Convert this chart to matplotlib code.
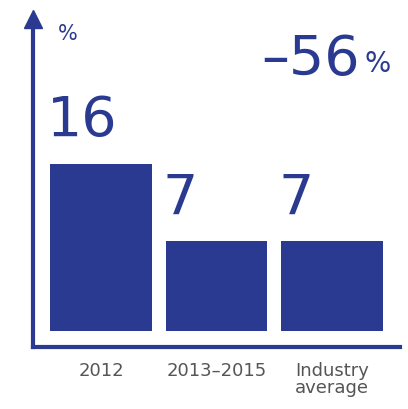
import matplotlib.pyplot as plt

categories = ["2012", "2013–2015", "Industry\naverage"]
values = [16, 7, 7]
value_labels = ["16", "7", "7"]
change_label = "–56"

BLUE = "#293a90"
BASE = 3.5  # bars start a little above the axis

fig = plt.figure(figsize=(4.08, 4.10), dpi=100)
ax = fig.add_axes([33 / 408, 62 / 410, 367 / 408, 328 / 410])

x = list(range(len(values)))
ax.bar(x, [v + BASE for v in values], bottom=-BASE, width=0.883, color=BLUE, align="center")

ax.set_xlim(-0.589, 2.589)
ax.set_ylim(-5.37, 32.9)

for s in ["top", "right"]:
    ax.spines[s].set_visible(False)
for s in ["left", "bottom"]:
    ax.spines[s].set_color(BLUE)
    ax.spines[s].set_linewidth(3)
ax.plot(0, 1, "^", transform=ax.transAxes, color=BLUE, markersize=13, clip_on=False)
ax.set_yticks([])
ax.set_xticks([])

font = ["Liberation Sans Narrow", "DejaVu Sans"]
for i, (v, lab) in enumerate(zip(values, value_labels)):
    ax.annotate(lab, (i - 0.441, v), xytext=(-2, 12), textcoords="offset points",
                ha="left", va="bottom", fontsize=40, color=BLUE, family=font)
    ax.annotate(categories[i], (i, -5.37), xytext=(0, -10), textcoords="offset points",
                ha="center", va="top", fontsize=13, color="#555555", family=font,
                linespacing=0.95, annotation_clip=False)

fig.text(58 / 408, 1 - 40 / 410, "%", fontsize=15, color=BLUE, family=font, ha="left", va="baseline")
fig.text(360 / 408, 1 - 75 / 410, change_label, fontsize=40, color=BLUE, family=font, ha="right", va="baseline")
fig.text(364 / 408, 1 - 72 / 410, "%", fontsize=20, color=BLUE, family=font, ha="left", va="baseline")

fig.savefig("out.png", dpi=100)
